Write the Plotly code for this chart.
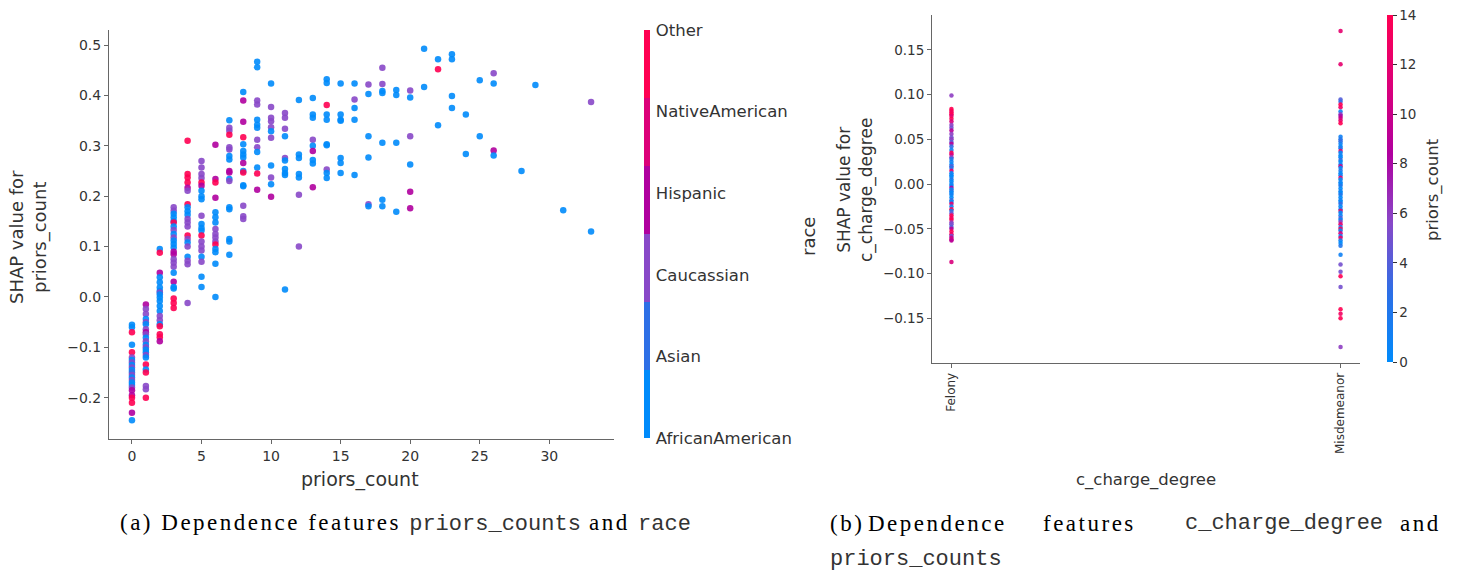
import plotly.graph_objects as go

W, H = 1459, 572

# ---------------- data: panel (a) ----------------
race_labels = ["AfricanAmerican", "Asian", "Caucassian", "Hispanic", "NativeAmerican", "Other"]
race_colors = ["#008bfb", "#2d6fe6", "#8848c8", "#b0009f", "#dc0079", "#ff0052"]

pc_x = ([0]*24 + [1]*23 + [2]*20 + [3]*25 + [4]*21 + [5]*21 + [6]*16 + [7]*17 + [8]*16 +
        [9]*13 + [10]*11 + [11]*10 + [12]*7 + [13]*9 + [14]*10 + [15]*7 + [16]*5 + [17]*6 +
        [18]*7 + [19]*4 + [20]*6 + [21]*2 + [22]*3 + [23]*4 + [24]*2 + [25]*2 + [26]*4 +
        [28]*1 + [29]*1 + [31]*1 + [33]*2)

pc_shap = [
    # 0
    -0.055, -0.06, -0.07, -0.095, -0.11, -0.12, -0.125, -0.13, -0.135, -0.14, -0.145, -0.15,
    -0.155, -0.16, -0.165, -0.17, -0.175, -0.18, -0.185, -0.195, -0.2, -0.21, -0.23, -0.245,
    # 1
    -0.015, -0.024, -0.034, -0.044, -0.05, -0.054, -0.064, -0.07, -0.074, -0.081, -0.088, -0.095,
    -0.1, -0.105, -0.11, -0.115, -0.12, -0.134, -0.144, -0.15, -0.177, -0.183, -0.2,
    # 2
    0.095, 0.088, 0.048, 0.039, 0.029, 0.019, 0.012, 0.009, 0.005, -0.001, -0.008, -0.018,
    -0.028, -0.038, -0.046, -0.054, -0.058, -0.074, -0.08, -0.088,
    # 3
    0.178, 0.171, 0.165, 0.158, 0.151, 0.148, 0.14, 0.133, 0.125, 0.118, 0.112, 0.105, 0.098,
    0.09, 0.085, 0.075, 0.068, 0.06, 0.048, 0.03, 0.02, 0.017, -0.003, -0.012, -0.022,
    # 4
    0.31, 0.244, 0.237, 0.227, 0.217, 0.211, 0.184, 0.178, 0.17, 0.163, 0.155, 0.148, 0.14,
    0.122, 0.115, 0.108, 0.1, 0.08, 0.072, 0.065, -0.012,
    # 5
    0.27, 0.257, 0.244, 0.236, 0.227, 0.221, 0.211, 0.2, 0.194, 0.161, 0.145, 0.137, 0.132,
    0.122, 0.11, 0.1, 0.092, 0.08, 0.07, 0.04, 0.02,
    # 6
    0.302, 0.234, 0.227, 0.197, 0.168, 0.158, 0.148, 0.135, 0.125, 0.118, 0.11, 0.104, 0.095,
    0.089, 0.066, 0.0,
    # 7
    0.351, 0.336, 0.33, 0.322, 0.297, 0.293, 0.28, 0.273, 0.25, 0.247, 0.234, 0.23, 0.178,
    0.174, 0.115, 0.11, 0.084,
    # 8
    0.407, 0.39, 0.348, 0.317, 0.303, 0.29, 0.283, 0.277, 0.266, 0.25, 0.247, 0.222, 0.22,
    0.181, 0.16, 0.155,
    # 9
    0.467, 0.456, 0.39, 0.382, 0.352, 0.342, 0.336, 0.312, 0.297, 0.288, 0.257, 0.245, 0.213,
    # 10
    0.424, 0.377, 0.356, 0.349, 0.337, 0.329, 0.316, 0.261, 0.237, 0.224, 0.199,
    # 11
    0.365, 0.356, 0.334, 0.319, 0.276, 0.271, 0.254, 0.246, 0.242, 0.015,
    # 12
    0.391, 0.283, 0.276, 0.244, 0.237, 0.203, 0.1,
    # 13
    0.395, 0.362, 0.356, 0.312, 0.3, 0.29, 0.272, 0.265, 0.218,
    # 14
    0.432, 0.425, 0.381, 0.362, 0.352, 0.303, 0.301, 0.253, 0.246, 0.236,
    # 15
    0.424, 0.362, 0.352, 0.35, 0.276, 0.266, 0.246,
    # 16
    0.424, 0.392, 0.375, 0.352, 0.242,
    # 17
    0.422, 0.403, 0.319, 0.277, 0.184, 0.18,
    # 18
    0.455, 0.423, 0.409, 0.405, 0.306, 0.193, 0.18,
    # 19
    0.411, 0.401, 0.306, 0.169,
    # 20
    0.41, 0.396, 0.319, 0.263, 0.209, 0.176,
    # 21
    0.493, 0.417,
    # 22
    0.472, 0.452, 0.341,
    # 23
    0.482, 0.472, 0.399, 0.375,
    # 24
    0.362, 0.284,
    # 25
    0.43, 0.319,
    # 26
    0.444, 0.424, 0.291, 0.281,
    # 28
    0.25,
    # 29
    0.421,
    # 31
    0.172,
    # 33
    0.387, 0.13,
]

pc_race = [
    # 0
    0, 0, 5, 0, 5, 2, 0, 2, 0, 2, 0, 1, 2, 0, 2, 0, 0, 2, 3, 3, 5, 5, 3, 0,
    # 1
    3, 2, 2, 0, 2, 0, 2, 3, 2, 0, 2, 0, 2, 0, 0, 2, 0, 5, 0, 5, 2, 2, 5,
    # 2
    0, 5, 3, 0, 0, 0, 0, 2, 0, 0, 0, 0, 0, 2, 2, 0, 5, 5, 5, 3,
    # 3
    2, 2, 0, 0, 0, 5, 0, 2, 0, 2, 0, 0, 0, 3, 3, 2, 2, 2, 0, 3, 0, 0, 5, 5, 5,
    # 4
    5, 5, 5, 5, 3, 2, 5, 0, 0, 0, 2, 2, 2, 5, 2, 0, 2, 0, 2, 2, 2,
    # 5
    2, 2, 2, 2, 5, 3, 0, 0, 0, 2, 0, 0, 0, 5, 2, 2, 2, 0, 2, 0, 0,
    # 6
    3, 3, 5, 3, 0, 0, 0, 2, 2, 2, 2, 5, 0, 0, 0, 0,
    # 7
    0, 2, 2, 5, 2, 2, 0, 0, 3, 3, 0, 2, 0, 0, 0, 0, 0,
    # 8
    0, 3, 3, 5, 0, 0, 0, 0, 3, 0, 5, 0, 0, 2, 2, 2,
    # 9
    0, 0, 2, 2, 0, 0, 0, 2, 2, 0, 0, 5, 3,
    # 10
    0, 2, 2, 2, 2, 0, 2, 0, 2, 0, 3,
    # 11
    2, 2, 2, 0, 2, 0, 0, 0, 0, 0,
    # 12
    0, 0, 0, 0, 0, 2, 2,
    # 13
    0, 0, 0, 2, 0, 3, 0, 0, 3,
    # 14
    0, 0, 5, 0, 0, 0, 0, 2, 0, 0,
    # 15
    0, 0, 0, 0, 0, 0, 0,
    # 16
    0, 2, 0, 0, 0,
    # 17
    2, 0, 0, 0, 2, 0,
    # 18
    2, 2, 0, 0, 0, 0, 0,
    # 19
    0, 0, 0, 0,
    # 20
    2, 0, 2, 0, 3, 3,
    # 21
    0, 0,
    # 22
    0, 5, 0,
    # 23
    0, 0, 0, 0,
    # 24
    0, 0,
    # 25
    0, 0,
    # 26
    2, 0, 3, 0,
    # 28
    0,
    # 29
    0,
    # 31
    0,
    # 33
    2, 0,
]

# ---------------- data: panel (b) ----------------
charge_categories = ["Felony", "Misdemeanor"]

felony_shap = [
    0.099, 0.084, 0.082, 0.08, 0.078, 0.076, 0.073, 0.07, 0.066, 0.063, 0.06, 0.056, 0.052,
    0.05, 0.047, 0.045, 0.042, 0.038, 0.035, 0.033, 0.03, 0.028, 0.025, 0.022, 0.02, 0.018,
    0.015, 0.012, 0.01, 0.008, 0.005, 0.003, 0.0, -0.002, -0.004, -0.006, -0.008, -0.01,
    -0.012, -0.015, -0.018, -0.02, -0.022, -0.025, -0.028, -0.03, -0.033, -0.035, -0.038,
    -0.04, -0.043, -0.045, -0.048, -0.05, -0.053, -0.056, -0.058, -0.06, -0.062, -0.063,
    -0.087,
]
felony_priors = [
    6, 14, 14, 13, 14, 12, 14, 11, 6, 5, 9, 6, 5,
    6, 4, 9, 3, 1, 14, 11, 6, 2, 1, 0, 4, 2,
    12, 0, 1, 0, 2, 0, 1, 0, 9, 0, 2, 0,
    1, 0, 3, 0, 12, 1, 14, 2, 5, 14, 13,
    14, 6, 5, 4, 9, 14, 13, 5, 10, 11, 9,
    11,
]

misd_shap = [
    0.171, 0.134, 0.0945, 0.092, 0.089, 0.086, 0.081, 0.078, 0.076, 0.074, 0.071, 0.068,
    0.053, 0.05, 0.048, 0.045, 0.042, 0.04, 0.037, 0.035, 0.032, 0.03, 0.027, 0.025, 0.022,
    0.02, 0.018, 0.015, 0.012, 0.01, 0.007, 0.005, 0.002, 0.0, -0.002, -0.005, -0.008, -0.01,
    -0.012, -0.015, -0.018, -0.02, -0.022, -0.025, -0.028, -0.03, -0.032, -0.035, -0.038,
    -0.04, -0.042, -0.045, -0.048, -0.05, -0.052, -0.055, -0.058, -0.06, -0.063, -0.066,
    -0.069, -0.079, -0.09, -0.098, -0.103, -0.115, -0.14, -0.145, -0.15, -0.182,
]
misd_priors = [
    12, 12, 4, 3, 14, 13, 1, 6, 8, 10, 12, 14,
    1, 2, 3, 1, 0, 2, 12, 0, 1, 0, 3, 0, 1,
    11, 0, 2, 0, 1, 13, 0, 1, 0, 2, 0, 1, 0,
    2, 0, 1, 0, 3, 0, 2, 13, 0, 1, 4,
    0, 6, 12, 2, 14, 1, 11, 0, 13, 1, 0,
    2, 1, 5, 5, 14, 5, 14, 13, 14, 6,
]
priors_ticks = [0, 2, 4, 6, 8, 10, 12, 14]

# ---------------- helpers ----------------
def px(x):
    return x / W

def py(y):
    return 1 - y / H

n = len(race_colors)
race_scale = []
for i, c in enumerate(race_colors):
    race_scale.append([i / n, c])
    race_scale.append([(i + 1) / n, c])
cont_scale = [[i / (n - 1), c] for i, c in enumerate(race_colors)]

AX = "#666666"
TXT = "#333333"
FONT = "DejaVu Sans"

fig = go.Figure()

fig.add_trace(go.Scatter(
    x=pc_x, y=pc_shap, mode="markers", xaxis="x", yaxis="y",
    marker=dict(size=6.5, color=pc_race, colorscale=race_scale, cmin=0, cmax=5, opacity=0.9,
                line=dict(width=0),
                colorbar=dict(
                    x=px(644), xanchor="left", thickness=6, thicknessmode="pixels",
                    len=(438 - 30) / H, lenmode="fraction", y=py(234), yanchor="middle",
                    xpad=0, ypad=0, outlinewidth=0, ticks="outside", ticklen=3,
                    tickcolor="rgba(0,0,0,0)",
                    tickvals=list(range(6)), ticktext=race_labels,
                    tickfont=dict(family=FONT, size=16.5, color=TXT))),
    showlegend=False, hoverinfo="skip"))

fig.add_trace(go.Scatter(
    x=[0] * len(felony_shap) + [1] * len(misd_shap), y=felony_shap + misd_shap,
    mode="markers", xaxis="x2", yaxis="y2",
    marker=dict(size=4.5, color=felony_priors + misd_priors, colorscale=cont_scale,
                cmin=0, cmax=14, opacity=0.9, line=dict(width=0),
                colorbar=dict(
                    x=px(1387), xanchor="left", thickness=6, thicknessmode="pixels",
                    len=(362 - 15) / H, lenmode="fraction", y=py(188.5), yanchor="middle",
                    xpad=0, ypad=0, outlinewidth=0, ticks="outside", ticklen=4,
                    tickcolor=TXT, tickvals=priors_ticks,
                    tickfont=dict(family=FONT, size=13.5, color=TXT))),
    showlegend=False, hoverinfo="skip"))

axis_common = dict(showgrid=False, zeroline=False, showline=True, linecolor=AX, linewidth=1,
                   ticks="outside", ticklen=4, tickcolor=AX, mirror=False)

fig.update_layout(
    width=W, height=H, margin=dict(l=0, r=0, t=0, b=0),
    paper_bgcolor="white", plot_bgcolor="white",
    xaxis=dict(domain=[px(109), px(614)], range=[-1.65, 34.65], anchor="y",
               tickvals=[0, 5, 10, 15, 20, 25, 30],
               tickfont=dict(family=FONT, size=14, color=TXT), **axis_common),
    yaxis=dict(domain=[py(439), py(30)], range=[-0.282, 0.530], anchor="x",
               tickvals=[-0.2, -0.1, 0.0, 0.1, 0.2, 0.3, 0.4, 0.5], tickformat=".1f",
               tickfont=dict(family=FONT, size=14, color=TXT), **axis_common),
    xaxis2=dict(domain=[px(932), px(1360)], range=[-0.05, 1.05], anchor="y2",
                tickvals=[0, 1], ticktext=charge_categories, tickangle=-90,
                tickfont=dict(family=FONT, size=12, color=TXT), **axis_common),
    yaxis2=dict(domain=[py(363), py(15)], range=[-0.200, 0.189], anchor="x2",
                tickvals=[-0.15, -0.10, -0.05, 0.0, 0.05, 0.10, 0.15], tickformat=".2f",
                tickfont=dict(family=FONT, size=13.5, color=TXT), **axis_common),
)

def ann(text, x, y, size, angle=0, family=FONT, color=TXT, xanchor="center", yanchor="middle"):
    fig.add_annotation(text=text, x=px(x), y=py(y), xref="paper", yref="paper",
                       showarrow=False, textangle=angle, xanchor=xanchor, yanchor=yanchor,
                       font=dict(family=family, size=size, color=color))

ann("priors_count", 360, 479, 19)
ann("SHAP value for<br>priors_count", 28, 237, 18, angle=-90)
ann("race", 808, 237, 18, angle=-90)
ann("c_charge_degree", 1146, 480, 16.5)
ann("SHAP value for<br>c_charge_degree", 855, 190, 17, angle=-90)
ann("priors_count", 1433, 190, 16.5, angle=-90)

SERIF = "Liberation Serif"
CAP = 23
SER = "letter-spacing:2.5px"
MONO = "font-family:Liberation Mono;font-size:22px;color:#333333"


def ser(t):
    return '<span style="%s">%s</span>' % (SER, t)


def mono(t):
    return '<span style="%s">%s</span>' % (MONO, t)


ann(ser("(a) Dependence features ") + mono("priors_counts") + ser(" and ") + mono("race"),
    118, 523, CAP, family=SERIF, color="black", xanchor="left")
ann(ser("(b)"), 828, 523, CAP, family=SERIF, color="black", xanchor="left")
ann(ser("Dependence"), 866, 523, CAP, family=SERIF, color="black", xanchor="left")
ann(ser("features"), 1041, 523, CAP, family=SERIF, color="black", xanchor="left")
ann(mono("c_charge_degree"), 1183, 523, CAP, family=SERIF, color="black", xanchor="left")
ann(ser("and"), 1443, 523, CAP, family=SERIF, color="black", xanchor="right")
ann(mono("priors_counts"), 828, 559, CAP, family=SERIF, color="black", xanchor="left")

fig.write_html("out.html")
